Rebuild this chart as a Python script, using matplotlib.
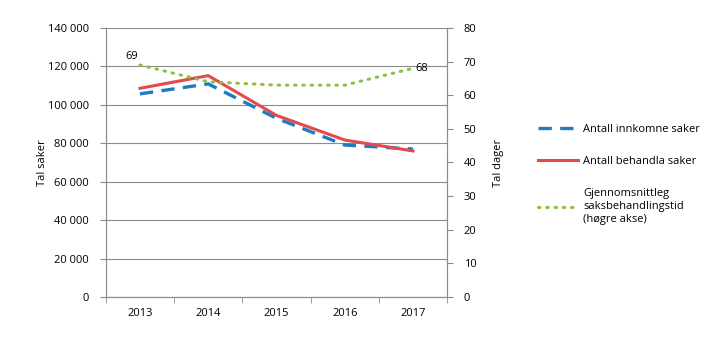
import numpy as np
import matplotlib
matplotlib.use("Agg")
import matplotlib.pyplot as plt
from matplotlib.ticker import FuncFormatter, FixedLocator, NullFormatter

plt.rcParams["font.family"] = ["Open Sans", "DejaVu Sans"]
plt.rcParams["font.size"] = 8

# --- Data -----------------------------------------------------------
years = ["2013", "2014", "2015", "2016", "2017"]
innkomne = [105700, 110900, 93000, 79100, 77000]
behandla = [108600, 115200, 94500, 81700, 76000]
dager = [69, 64, 63, 63, 68]

BLUE = "#1f7bc1"
RED = "#e04b4b"
GREEN = "#8cc043"
GRID = "#8c8c8c"

fig = plt.figure(figsize=(7.2, 3.41), dpi=100)
ax = fig.add_axes([0.147, 0.129, 0.474, 0.789])
ax2 = ax.twinx()

x = np.arange(len(years))

l1, = ax.plot(x, innkomne, color=BLUE, lw=2.4, ls=(0, (4, 2.5)), label="Antall innkomne saker")
l2, = ax.plot(x, behandla, color=RED, lw=2.2, label="Antall behandla saker")
l3, = ax2.plot(x, dager, color=GREEN, lw=2.2, ls=(0, (0.5, 2.2)), dash_capstyle="round",
               label="Gjennomsnittleg\nsaksbehandlingstid\n(høgre akse)")

ax2.annotate(str(dager[0]), (x[0], dager[0]), xytext=(-6, 2), textcoords="offset points",
             ha="center", va="bottom", fontsize=8)
ax2.annotate(str(dager[-1]), (x[-1], dager[-1]), xytext=(2, 0), textcoords="offset points",
             ha="left", va="center", fontsize=8)

ax.set_xlim(-0.5, len(years) - 0.5)
ax.set_ylim(0, 140000)
ax2.set_ylim(0, 80)
ax.set_yticks(np.arange(0, 140001, 20000))
ax2.set_yticks(np.arange(0, 81, 10))
ax.yaxis.set_major_formatter(FuncFormatter(lambda v, p: f"{int(v):,}".replace(",", " ")))

ax.set_xticks(x)
ax.set_xticklabels(years)
ax.tick_params(axis="x", which="major", length=0, pad=8)
ax.xaxis.set_minor_locator(FixedLocator(np.arange(-0.5, len(years), 1)))
ax.xaxis.set_minor_formatter(NullFormatter())
ax.tick_params(axis="x", which="minor", length=4, color=GRID)
ax.tick_params(axis="y", length=4, color=GRID, pad=8)
ax2.tick_params(axis="y", length=4, color=GRID, pad=8)

ax.grid(axis="y", color=GRID, lw=0.8)
ax.set_axisbelow(True)
for a in (ax, ax2):
    for s in a.spines.values():
        s.set_color(GRID)
        s.set_linewidth(0.8)
    a.spines["top"].set_visible(False)

ax.set_ylabel("Tal saker", labelpad=0)
ax2.set_ylabel("Tal dager", labelpad=12)

fig.legend(handles=[l1, l2, l3], loc="upper left", bbox_to_anchor=(0.733, 0.665),
           frameon=False, handlelength=3.6, handletextpad=0.5, labelspacing=1.9, fontsize=8)

fig.savefig("out.png", dpi=100)
